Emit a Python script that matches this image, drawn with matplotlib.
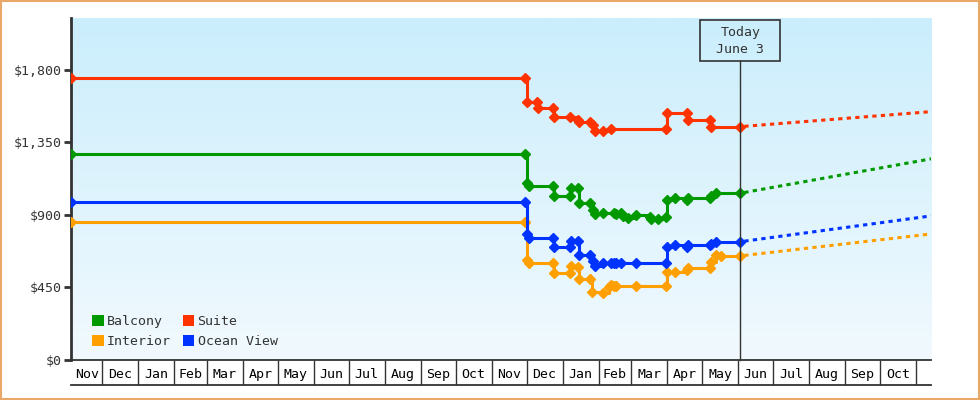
import numpy as np
import pandas as pd
import matplotlib
matplotlib.use('Agg')
import matplotlib.pyplot as plt
import matplotlib.dates as mdates
from matplotlib.patches import Patch, Rectangle
from matplotlib.lines import Line2D

plt.rcParams['font.family'] = ['DejaVu Sans Mono']

# --- data ---
suite_dates = ['2021-11-04', '2022-11-30', '2022-12-01', '2022-12-10', '2022-12-11', '2022-12-24',
               '2022-12-25', '2023-01-07', '2023-01-14', '2023-01-15', '2023-01-25', '2023-01-27',
               '2023-01-29', '2023-02-05', '2023-02-12', '2023-03-31', '2023-04-01', '2023-04-18',
               '2023-04-19', '2023-05-08', '2023-05-09', '2023-06-03']
suite_vals = [1750, 1750, 1603, 1603, 1566, 1566, 1506, 1506, 1490, 1475, 1475, 1455,
              1418, 1418, 1432, 1432, 1535, 1535, 1490, 1490, 1448, 1448]

balcony_dates = ['2021-11-04', '2022-11-30', '2022-12-01', '2022-12-03', '2022-12-24', '2022-12-25',
                 '2023-01-07', '2023-01-08', '2023-01-14', '2023-01-15', '2023-01-25', '2023-01-27',
                 '2023-01-29', '2023-02-05', '2023-02-14', '2023-02-16', '2023-02-20', '2023-02-22',
                 '2023-02-26', '2023-03-05', '2023-03-17', '2023-03-18', '2023-03-24', '2023-03-31',
                 '2023-04-01', '2023-04-08', '2023-04-18', '2023-04-19', '2023-05-08', '2023-05-09',
                 '2023-05-13', '2023-06-03']
balcony_vals = [1279, 1279, 1097, 1080, 1080, 1018, 1018, 1066, 1066, 972, 975, 930,
                905, 912, 912, 905, 915, 895, 878, 900, 885, 872, 872, 885,
                990, 1003, 993, 1003, 1003, 1015, 1035, 1035]

ocean_dates = ['2021-11-04', '2022-11-30', '2022-12-01', '2022-12-03', '2022-12-24', '2022-12-25',
               '2023-01-07', '2023-01-08', '2023-01-14', '2023-01-15', '2023-01-25', '2023-01-27',
               '2023-01-29', '2023-02-05', '2023-02-12', '2023-02-14', '2023-02-16', '2023-02-20',
               '2023-03-05', '2023-03-31', '2023-04-01', '2023-04-08', '2023-04-18', '2023-04-19',
               '2023-05-08', '2023-05-09', '2023-05-13', '2023-06-03']
ocean_vals = [981, 981, 782, 755, 755, 700, 700, 741, 741, 652, 652, 615,
              582, 600, 600, 600, 600, 600, 600, 600, 703, 714, 703, 714,
              714, 722, 734, 734]

interior_dates = ['2021-11-04', '2022-11-30', '2022-12-01', '2022-12-03', '2022-12-24', '2022-12-25',
                  '2023-01-07', '2023-01-08', '2023-01-14', '2023-01-15', '2023-01-25', '2023-01-26',
                  '2023-02-05', '2023-02-10', '2023-02-12', '2023-02-14', '2023-02-16', '2023-03-05',
                  '2023-03-31', '2023-04-01', '2023-04-08', '2023-04-18', '2023-04-19', '2023-05-08',
                  '2023-05-09', '2023-05-13', '2023-05-17', '2023-06-03']
interior_vals = [855, 855, 621, 604, 604, 538, 538, 585, 579, 501, 501, 424,
                 418, 455, 468, 460, 460, 460, 460, 548, 548, 559, 569, 569,
                 610, 652, 646, 646]

# projection from today to the end of the range
proj_dates = ['2023-06-03', '2023-11-14']
suite_proj = [1448, 1541]
balcony_proj = [1035, 1248]
ocean_proj = [734, 894]
interior_proj = [646, 782]

today = '2023-06-03'
today_label = 'Today\nJune 3'
x_start, x_end = '2021-11-04', '2023-11-14'
y_ticks = [0, 450, 900, 1350, 1800]
y_labels = ['$0', '$450', '$900', '$1,350', '$1,800']

series = [
    ('Balcony', balcony_dates, balcony_vals, balcony_proj, '#009900'),
    ('Interior', interior_dates, interior_vals, interior_proj, '#ffa000'),
    ('Suite', suite_dates, suite_vals, suite_proj, '#ff3300'),
    ('Ocean View', ocean_dates, ocean_vals, ocean_proj, '#0033ff'),
]

# --- figure ---
fig = plt.figure(figsize=(9.8, 4.0), dpi=100)
fig.patch.set_facecolor('white')
fig.patches.append(Rectangle((0.001, 0.002), 0.998, 0.996, transform=fig.transFigure,
                             fill=False, edgecolor='#e8a868', linewidth=1.5))
ax = fig.add_axes([71 / 980, 40 / 400, 860 / 980, 342 / 400])

# gradient background
grad = np.linspace(0, 1, 256).reshape(-1, 1)
top = np.array([203, 238, 252]) / 255
bot = np.array([241, 249, 254]) / 255
img = top[None, None, :] * (1 - grad[..., None]) + bot[None, None, :] * grad[..., None]
ax.imshow(img, extent=[0, 1, 0, 1], transform=ax.transAxes, aspect='auto', zorder=0)

text_c = '#333333'
for name, d, v, p, c in series:
    ax.plot(pd.to_datetime(d), v, drawstyle='steps-post', color=c, lw=2.2,
            marker='D', markersize=5.2, zorder=3)
    ax.plot(pd.to_datetime(proj_dates), p, color=c, lw=2.2,
            linestyle=(1.5, (1.4, 1.4)), zorder=3)

ax.set_xlim(pd.Timestamp(x_start), pd.Timestamp(x_end))
ax.set_ylim(0, 2122)

# y axis
for s in ['top', 'right']:
    ax.spines[s].set_visible(False)
ax.spines['left'].set_color(text_c)
ax.spines['left'].set_linewidth(2)
ax.spines['bottom'].set_color(text_c)
ax.spines['bottom'].set_linewidth(1.3)
ax.set_yticks(y_ticks)
ax.set_yticklabels(y_labels)
ax.tick_params(axis='y', length=5, width=2, color=text_c, labelcolor=text_c,
               labelsize=9.5, pad=2)

# x axis: month cells, separators as major ticks, names centred as minor ticks
months = pd.date_range('2021-12-01', '2023-11-01', freq='MS')
ax.set_xticks(months)
ax.set_xticklabels([])
ax.tick_params(axis='x', which='major', length=18, width=1, color=text_c, direction='out')
cell_starts = [pd.Timestamp(x_start)] + list(months[:-1])
cell_ends = list(months)
mids = [a + (b - a) / 2 for a, b in zip(cell_starts, cell_ends)]
ax.set_xticks(mids, minor=True)
ax.set_xticklabels([a.strftime('%b') for a in cell_starts], minor=True)
ax.tick_params(axis='x', which='minor', length=0, labelsize=9.5, labelcolor='black', pad=6)
fig.add_artist(Line2D([71 / 980, 931 / 980], [15 / 400, 15 / 400], color=text_c, lw=1.3))

# today marker
xt = ax.get_xaxis_transform()
tnum = mdates.date2num(pd.Timestamp(today))
ax.plot([tnum, tnum], [0, 0.875], transform=xt, color=text_c, lw=1, zorder=4, clip_on=False)
ax.add_patch(Rectangle((tnum - 34.5, 0.875), 69, 0.119, transform=xt, fill=False,
                       edgecolor=text_c, lw=1.2, clip_on=False, zorder=4))
ax.text(tnum, 0.934, today_label, transform=xt, ha='center', va='center',
        fontsize=9.5, color=text_c, linespacing=1.4, zorder=5)

# legend
handles = [Patch(facecolor=c, edgecolor='none', label=n) for n, _, _, _, c in series]
ax.legend(handles=handles, ncol=2, loc='lower left', bbox_to_anchor=(0.011, 0.0),
          frameon=False, fontsize=9.5, handlelength=0.85, handleheight=0.85,
          handletextpad=0.25, columnspacing=0.92, labelspacing=0.55,
          labelcolor=text_c)

fig.savefig('out.png', dpi=100, facecolor='white')
